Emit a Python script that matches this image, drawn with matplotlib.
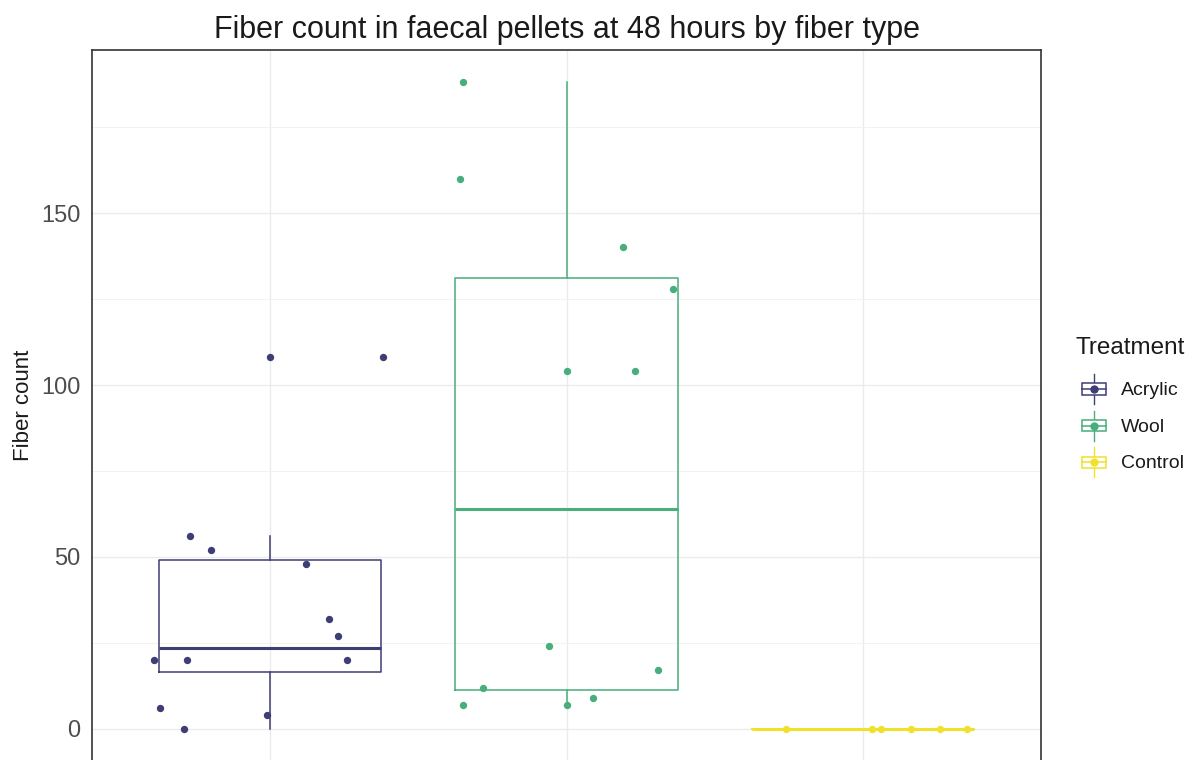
import numpy as np
import matplotlib
matplotlib.use("Agg")
from matplotlib import pyplot as plt
from matplotlib.legend_handler import HandlerBase
from matplotlib.lines import Line2D
from matplotlib.patches import Rectangle
from matplotlib.ticker import MultipleLocator

plt.rcParams['font.family'] = ['Liberation Sans', 'DejaVu Sans']

# data
treatments = ["Acrylic", "Wool", "Control"]
acrylic = [0, 6, 4, 20, 20, 20, 27, 32, 48, 52, 56, 108]
wool = [188, 160, 140, 128, 104, 104, 24, 17, 12, 7, 7, 9]
control = [0, 0, 0, 0, 0, 0]
# horizontal jitter of each point, in category units
acrylic_jit = [-0.29, -0.37, -0.01, -0.39, -0.28, 0.26, 0.23, 0.20, 0.12, -0.20, -0.27, 0.38]
wool_jit = [-0.35, -0.36, 0.19, 0.36, 0.0, 0.23, -0.06, 0.31, -0.28, -0.35, 0.0, 0.09]
control_jit = [-0.26, 0.03, 0.06, 0.16, 0.26, 0.35]

colors = ["#3E3D74", "#47AE7C", "#F0E22C"]
values = [acrylic, wool, control]
jitters = [acrylic_jit, wool_jit, control_jit]


class BoxKey(HandlerBase):
    # ggplot-like boxplot key: whisker, box, median and a dot
    def create_artists(self, legend, orig_handle, xdescent, ydescent,
                       width, height, fontsize, trans):
        c = orig_handle.get_color()
        x0, y0 = -xdescent, -ydescent
        cx, cy = x0 + width / 2, y0 + height / 2
        bh = height * 0.37
        art = [
            Line2D([cx, cx], [y0, y0 + height], color=c, lw=1.0),
            Rectangle((x0, cy - bh / 2), width, bh, fill=True, fc="white",
                      ec=c, lw=1.1),
            Line2D([x0, x0 + width], [cy, cy], color=c, lw=1.1),
            Line2D([cx], [cy], marker="o", ms=5, color=c, lw=0),
        ]
        for a in art:
            a.set_transform(trans)
        return art


fig = plt.figure(figsize=(11.95, 7.6), dpi=100)
ax = fig.add_axes([92 / 1195, -1.3 / 760, 949 / 1195, 711.3 / 760])

bp = ax.boxplot(values, positions=[1, 2, 3], widths=0.75, showcaps=False,
                whis=1.5, patch_artist=False, zorder=2)
for i, c in enumerate(colors):
    bp["boxes"][i].set(color=c, lw=1.1)
    bp["medians"][i].set(color=c, lw=2.2)
    for w in bp["whiskers"][2 * i:2 * i + 2]:
        w.set(color=c, lw=1.1)
    bp["fliers"][i].set(marker="o", mfc=c, mec=c, mew=0, ms=5.3)

for i, (v, j, c) in enumerate(zip(values, jitters, colors)):
    ax.scatter(np.array(j) + i + 1, v, s=28, color=c, lw=0, zorder=3)

ax.set_xlim(0.4, 3.6)
ax.set_ylim(-9.4, 197.4)
ax.set_xticks([1, 2, 3])
ax.yaxis.set_major_locator(MultipleLocator(50))
ax.yaxis.set_minor_locator(MultipleLocator(25))
ax.grid(which="major", color="#EBEBEB", lw=1.0, zorder=0)
ax.grid(which="minor", axis="y", color="#F2F2F2", lw=0.7, zorder=0)
ax.set_axisbelow(True)
ax.tick_params(which="both", length=0)
ax.tick_params(axis="y", labelsize=17, labelcolor="#4D4D4D", pad=8.5)
# x labels fall below the visible area in the reference
ax.tick_params(axis="x", labelbottom=False)
for s in ax.spines.values():
    s.set_color("#333333")
    s.set_linewidth(1.2)

ax.set_ylabel("Fiber count", fontsize=16, color="#1A1A1A", va="center")
ax.yaxis.set_label_coords(-0.072, 0.5)
ax.set_title("Fiber count in faecal pellets at 48 hours by fiber type",
             fontsize=22, color="#1A1A1A", pad=8.5)

fig.text(1075 / 1195, 1 - 348 / 760, "Treatment", fontsize=17.5,
         color="#1A1A1A", ha="left", va="center")
handles = [Line2D([], [], color=c) for c in colors]
leg = fig.legend(handles, treatments,
                 handler_map={Line2D: BoxKey()},
                 loc="upper left", bbox_to_anchor=(1082 / 1195, 1 - 374 / 760),
                 frameon=False, borderpad=0, borderaxespad=0,
                 fontsize=14, handlelength=1.24, handleheight=2.0,
                 handletextpad=0.77, labelspacing=0.34)
for t in leg.get_texts():
    t.set_color("#1A1A1A")

fig.savefig("out.png", dpi=100)
